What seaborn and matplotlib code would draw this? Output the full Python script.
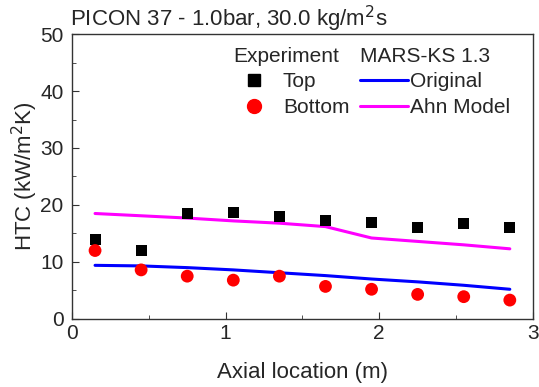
import numpy as np
import pandas as pd
import matplotlib
matplotlib.use("Agg")
import matplotlib.pyplot as plt
import seaborn as sns
from matplotlib.lines import Line2D
from matplotlib.ticker import MultipleLocator

x = [0.15, 0.45, 0.75, 1.05, 1.35, 1.65, 1.95, 2.25, 2.55, 2.85]
exp_top = [13.9, 12.0, 18.5, 18.7, 17.9, 17.2, 16.9, 16.1, 16.7, 16.1]
exp_bottom = [12.0, 8.6, 7.5, 6.8, 7.5, 5.7, 5.2, 4.3, 3.9, 3.3]
mars_original = [9.4, 9.3, 9.0, 8.6, 8.1, 7.6, 7.0, 6.5, 5.9, 5.2]
mars_ahn = [18.5, 18.1, 17.7, 17.2, 16.8, 16.2, 14.2, 13.6, 13.0, 12.3]

sns.set_style("ticks")
plt.rcParams['font.family'] = ['Liberation Sans', 'DejaVu Sans']

fig = plt.figure(figsize=(5.39, 3.87), dpi=100)
ax = fig.add_axes([0.1336, 0.176, 0.855, 0.736])

df = pd.DataFrame({"x": x, "top": exp_top, "bottom": exp_bottom,
                   "orig": mars_original, "ahn": mars_ahn})

sns.lineplot(data=df, x="x", y="orig", ax=ax, color="#0000ff", lw=2.2)
sns.lineplot(data=df, x="x", y="ahn", ax=ax, color="#ff00ff", lw=2.2)
sns.scatterplot(data=df, x="x", y="top", ax=ax, marker="s", color="black",
                s=62, edgecolor="none", zorder=3)
sns.scatterplot(data=df, x="x", y="bottom", ax=ax, marker="o", color="#ff0000",
                s=85, edgecolor="none", zorder=3)

ax.set_xlim(0, 3)
ax.set_ylim(0, 50)
ax.xaxis.set_major_locator(MultipleLocator(1))
ax.xaxis.set_minor_locator(MultipleLocator(0.5))
ax.yaxis.set_major_locator(MultipleLocator(10))
ax.yaxis.set_minor_locator(MultipleLocator(5))
ax.tick_params(which="both", direction="in", labelsize=15, color="#333333")
ax.tick_params(which="major", length=5)
ax.tick_params(which="minor", length=3)
ax.tick_params(axis="y", pad=6)
for sp in ax.spines.values():
    sp.set_visible(True)
    sp.set_color("#333333")
    sp.set_linewidth(1.0)

ax.set_xlabel("Axial location (m)", fontsize=16, labelpad=14)
ax.set_ylabel("HTC (kW/m$^2$K)", fontsize=16, labelpad=0)
ax.set_title("PICON 37 - 1.0bar, 30.0 kg/m$^2$s", fontsize=16, loc="left",
             pad=2, x=-0.005)

h1 = [Line2D([], [], marker="s", ls="none", color="black", markersize=8),
      Line2D([], [], marker="o", ls="none", color="#ff0000", markersize=10)]
h2 = [Line2D([], [], color="#0000ff", lw=2.2),
      Line2D([], [], color="#ff00ff", lw=2.2)]
leg1 = ax.legend(h1, ["Top", "Bottom"], title="Experiment", loc="upper left",
                 bbox_to_anchor=(0.322, 1.0), frameon=False, fontsize=15,
                 title_fontsize=15, handlelength=2.0, handletextpad=0.4,
                 labelspacing=0.32, borderaxespad=0.2)
leg1._legend_box.align = "left"
ax.add_artist(leg1)
leg2 = ax.legend(h2, ["Original", "Ahn Model"], title="MARS-KS 1.3",
                 loc="upper left", bbox_to_anchor=(0.597, 1.0), frameon=False,
                 fontsize=15, title_fontsize=15, handlelength=2.3,
                 handletextpad=0.12, labelspacing=0.32, borderaxespad=0.2)
leg2._legend_box.align = "left"

fig.savefig("out.png", dpi=100)
